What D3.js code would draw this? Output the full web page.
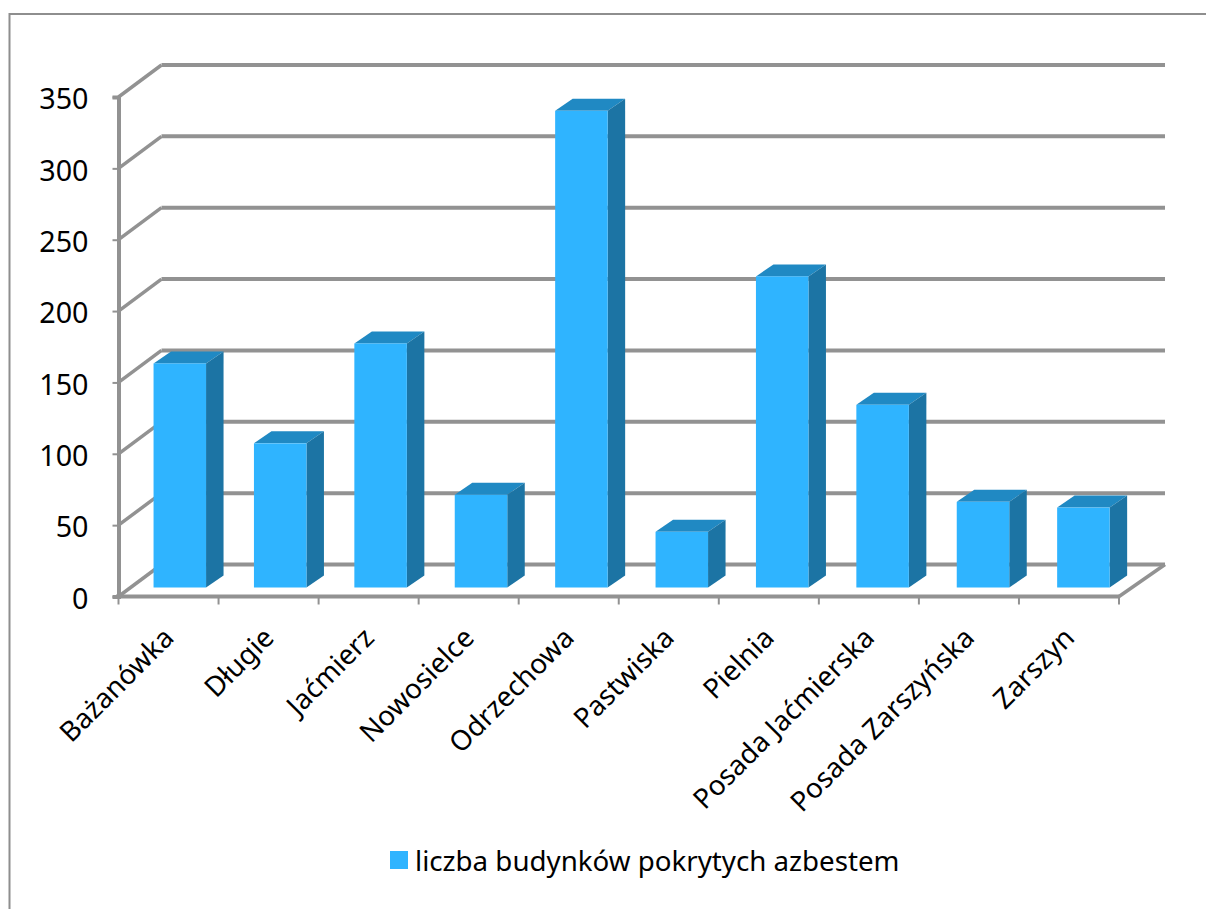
<!DOCTYPE html>
<html><head><meta charset="utf-8">
<script src="https://cdnjs.cloudflare.com/ajax/libs/d3/7.8.5/d3.min.js"></script>
<style>html,body{margin:0;padding:0;background:#fff}svg{display:block}text{font-family:"Noto Sans",sans-serif;fill:#000}.soft{filter:blur(0.45px)}</style>
</head><body><svg id="c" width="1206" height="909"></svg>
<script>
const categories=["Bażanówka","Długie","Jaćmierz","Nowosielce","Odrzechowa","Pastwiska","Pielnia","Posada Jaćmierska","Posada Zarszyńska","Zarszyn"];
const values=[157,101,171,65,334,39,218,128,60,56];
const yTicks=[0,50,100,150,200,250,300,350];
const seriesName="liczba budynków pokrytych azbestem";
const W=1206,H=909;
const svg=d3.select("#c");
const grey="#929292";
const front="#2FB4FF",topC="#2089C3",side="#1C74A4";
const font='"Noto Sans",sans-serif',fs=27.7;
const x=d3.scaleBand().domain(categories).range([118.5,1119]);
const xBar=d3.scaleBand().domain(categories).range([118,1122]);
const y=d3.scaleLinear().domain([0,350]).range([596.5,97]);
const depthX=43,depthY=-32;
const barOffX=11.6,barOffY=-9,barW=52.5,barDX=17.5,barDY=-12;
svg.append("path").attr("d",`M9.5,${H}V14H${W}`).attr("fill","none").attr("stroke","#8e8e8e").attr("stroke-width",2);
const g=svg.append("g");
g.selectAll(".grid").data(yTicks).join("line").attr("class","soft").attr("x1",118.5+depthX).attr("x2",1165)
 .attr("y1",d=>y(d)+depthY).attr("y2",d=>y(d)+depthY).attr("stroke",grey).attr("stroke-width",4);
g.selectAll(".sl").data(yTicks).join("line").attr("class","soft").attr("x1",118.5).attr("x2",118.5+depthX)
 .attr("y1",d=>y(d)).attr("y2",d=>y(d)+depthY).attr("stroke",grey).attr("stroke-width",3.5);
g.append("line").attr("class","soft").attr("x1",1119).attr("y1",y(0)).attr("x2",1165).attr("y2",y(0)+depthY).attr("stroke",grey).attr("stroke-width",3.5);
const yAxis=d3.axisLeft(y).tickValues(yTicks).tickSize(6);
const ay=g.append("g").attr("transform","translate(118.5,0)").call(yAxis);
ay.select(".domain").attr("stroke",grey).attr("stroke-width",4).attr("class","soft");
ay.selectAll(".tick line").attr("stroke",grey).attr("stroke-width",2);
ay.selectAll("text").attr("font-size",fs+1).attr("fill","#000").attr("font-family",font).attr("x",-30).attr("y",2).attr("dy","0.34em");
const edges=categories.map(c=>x(c)).concat([x.range()[1]]);
const bottom=y(0);
g.append("line").attr("class","soft").attr("x1",116).attr("x2",1119).attr("y1",bottom).attr("y2",bottom).attr("stroke",grey).attr("stroke-width",4);
g.selectAll(".xt").data(edges).join("line").attr("x1",d=>d).attr("x2",d=>d).attr("y1",bottom).attr("y2",bottom+8).attr("stroke",grey).attr("stroke-width",2);
const bars=g.selectAll(".bar").data(categories.map((c,i)=>({c,v:values[i]}))).join("g").attr("class","soft");
const bx=d=>xBar(d.c)+xBar.bandwidth()/2+barOffX-barW/2;
const by=d=>y(d.v)+barOffY;
const by0=y(0)+barOffY;
bars.append("path").attr("fill",topC).attr("d",d=>{const a=bx(d),t=by(d);return `M${a},${t}L${a+barDX},${t+barDY}H${a+barW+barDX}L${a+barW},${t}Z`;});
bars.append("path").attr("fill",side).attr("d",d=>{const a=bx(d)+barW,t=by(d);return `M${a},${t}L${a+barDX},${t+barDY}V${by0+barDY}L${a},${by0}Z`;});
bars.append("rect").attr("fill",front).attr("x",bx).attr("y",by).attr("width",barW).attr("height",d=>by0-by(d));
g.selectAll(".xl").data(categories).join("text").attr("font-size",fs).attr("text-anchor","end")
 .attr("transform",d=>`translate(${x(d)+x.bandwidth()/2+7},${bottom+43}) rotate(-45)`).text(d=>d);
svg.append("rect").attr("x",390).attr("y",851).attr("width",18).attr("height",18).attr("fill",front);
svg.append("text").attr("x",415).attr("y",871).attr("font-size",fs).text(seriesName);
</script></body></html>
